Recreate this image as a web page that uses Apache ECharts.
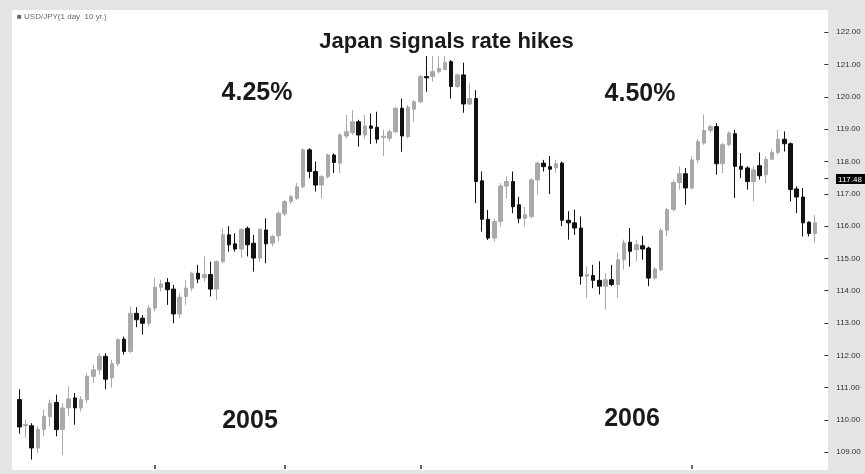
<!DOCTYPE html>
<html>
<head>
<meta charset="utf-8">
<script src="https://cdn.jsdelivr.net/npm/echarts@6/dist/echarts.min.js"></script>
<style>
html,body{margin:0;padding:0;background:#e4e4e4;}
#c{width:865px;height:474px;}
</style>
</head>
<body>
<div id="c"></div>
<script>
// USD/JPY daily candles
const opens = [110.63,109.82,109.82,109.13,109.70,110.10,110.54,109.70,110.37,110.68,
110.37,110.63,111.35,111.55,111.97,111.30,111.74,112.50,112.12,113.30,
113.15,112.99,113.46,114.11,114.25,114.05,113.28,113.82,114.08,114.54,
114.40,114.50,114.05,114.90,115.73,115.45,115.29,115.93,115.47,115.01,
115.88,115.47,115.70,116.38,116.76,116.86,117.22,118.36,117.69,117.27,
117.53,118.20,117.95,118.79,118.89,119.23,118.82,119.10,119.06,118.74,
118.72,118.92,119.65,118.77,119.62,119.85,120.63,120.63,120.78,120.85,
121.09,120.32,120.68,119.78,119.95,117.40,116.21,115.63,116.14,117.24,
117.38,116.66,116.24,116.30,117.43,117.95,117.84,117.80,117.95,116.18,
116.10,115.94,114.45,114.47,114.32,114.14,114.34,114.19,114.96,115.50,
115.27,115.39,115.32,114.39,114.65,115.87,116.51,117.35,117.62,117.18,
118.05,118.57,118.96,119.08,117.93,118.52,118.86,117.85,117.80,117.38,
117.87,117.59,118.07,118.28,118.69,118.55,117.15,116.90,116.12,115.77];
const closes = [109.78,109.86,109.13,109.70,110.11,110.52,109.70,110.37,110.65,110.37,
110.63,111.35,111.55,111.97,111.26,111.74,112.48,112.12,113.30,113.10,
112.99,113.46,114.11,114.21,114.03,113.28,113.80,114.08,114.54,114.36,
114.50,114.05,114.90,115.73,115.42,115.29,115.90,115.42,115.01,115.90,
115.45,115.68,116.40,116.76,116.91,117.22,118.36,117.69,117.27,117.53,
118.20,117.97,118.82,118.92,119.23,118.82,119.10,119.03,118.69,118.78,
118.92,119.65,118.79,119.68,119.85,120.63,120.59,120.78,120.88,121.06,
120.32,120.68,119.78,119.95,117.38,116.21,115.63,116.14,117.24,117.38,
116.60,116.24,116.35,117.43,117.95,117.84,117.76,117.93,116.18,116.10,
115.94,114.45,114.50,114.32,114.14,114.34,114.19,114.96,115.48,115.22,
115.42,115.29,114.39,114.67,115.87,116.51,117.35,117.62,117.18,118.05,
118.62,118.96,119.08,117.93,118.52,118.88,117.85,117.76,117.38,117.74,
117.56,118.07,118.28,118.69,118.55,117.13,116.90,116.10,115.77,116.10];
const lows = [109.57,109.45,108.77,108.98,109.49,109.80,109.49,108.92,110.11,109.85,
110.26,110.52,111.14,111.40,110.95,111.00,111.66,112.02,112.07,112.87,
112.64,112.89,113.36,113.98,113.56,112.99,113.15,113.56,113.98,114.23,
114.28,113.82,113.72,114.85,115.21,115.21,115.01,115.06,114.59,114.90,
114.85,115.37,115.52,116.30,116.69,116.81,117.17,117.48,117.07,116.86,
117.48,117.64,117.64,118.72,118.82,118.46,118.72,118.54,118.56,118.17,
118.62,118.87,118.30,118.72,119.23,119.80,120.16,120.47,120.73,120.83,
119.95,120.27,119.51,119.75,116.71,115.83,115.57,115.52,115.99,116.86,
116.40,116.09,115.99,116.24,116.97,117.69,116.99,117.65,116.00,115.58,
115.73,114.19,113.78,114.08,113.88,113.41,114.14,113.78,114.65,114.75,
114.91,114.96,114.14,114.34,114.60,115.68,116.46,117.13,116.66,117.13,
117.95,118.52,118.88,117.59,117.64,118.47,116.87,117.49,117.13,116.76,
117.44,117.33,118.05,118.21,118.31,116.76,116.40,115.68,115.68,115.48];
const highs = [110.95,110.00,109.90,109.80,110.32,110.63,110.78,110.52,111.04,110.83,
110.73,111.45,111.71,112.07,112.07,111.86,112.53,112.58,113.51,113.49,
113.25,113.56,114.39,114.34,114.39,114.18,113.92,114.34,114.59,114.80,
115.06,114.90,114.94,115.93,116.00,115.78,115.93,115.99,115.73,115.93,
116.24,115.73,116.45,116.81,116.97,117.33,118.41,118.41,118.00,117.58,
118.25,118.25,118.87,119.44,119.59,119.29,119.44,119.49,119.54,118.98,
118.98,119.70,119.95,119.75,119.90,120.68,121.40,121.40,121.40,121.35,
121.14,120.73,121.06,120.42,120.21,117.69,116.50,116.24,117.33,117.53,
117.69,116.91,116.60,117.48,118.00,118.05,118.17,118.05,118.00,116.46,
116.51,116.30,114.75,114.80,114.91,114.55,114.80,115.17,115.58,115.94,
115.58,115.70,115.37,114.73,115.94,116.56,117.44,117.85,117.80,118.16,
118.69,119.45,119.14,119.19,118.57,118.93,118.98,118.26,117.85,117.85,
118.28,118.16,118.36,118.98,118.93,118.59,117.23,117.18,116.15,116.35];
const days = Array.from({length: opens.length}, (_, i) => 'D' + (i + 1));
const priceTicks = [109,110,111,112,113,114,115,116,117,118,119,120,121,122];
const monthTickIdx = [22, 43, 65, 109];
const lastPrice = 117.48;
const titleText = 'Japan signals rate hikes';
const headerText = '\u25A0 USD/JPY(1 day  10 yr.)';
const notes = [
  {text: '4.25%', x: 257, y: 93},
  {text: '4.50%', x: 640, y: 94},
  {text: '2005', x: 250, y: 421},
  {text: '2006', x: 632, y: 419}
];

const ohlc = opens.map((o, i) => [o, closes[i], lows[i], highs[i]]);

const chart = echarts.init(document.getElementById('c'), null, {renderer: 'canvas'});
const FONT = '"Liberation Sans", Arial, Helvetica, sans-serif';

const graphics = [
  {type: 'rect', z: -10, silent: true, shape: {x: 12, y: 10, width: 816, height: 460}, style: {fill: '#ffffff'}},
  {type: 'text', z: 100, silent: true, style: {text: headerText, x: 17, y: 16.5, textVerticalAlign: 'middle', font: '8px ' + FONT, fill: '#666'}},
  {type: 'rect', z: 90, silent: true, shape: {x: 312, y: 24, width: 272, height: 32}, style: {fill: '#ffffff'}},
  {type: 'text', z: 100, silent: true, style: {text: titleText, x: 446.5, y: 42, textAlign: 'center', textVerticalAlign: 'middle', font: 'bold 22px ' + FONT, fill: '#1a1a1a'}},
  {type: 'rect', z: 100, silent: true, shape: {x: 836, y: 174, width: 29, height: 10}, style: {fill: '#000000'}},
  {type: 'text', z: 101, silent: true, style: {text: lastPrice.toFixed(2), x: 850, y: 179.5, textAlign: 'center', textVerticalAlign: 'middle', font: '8px ' + FONT, fill: '#ffffff'}}
];
notes.forEach(n => graphics.push({type: 'text', z: 100, silent: true,
  style: {text: n.text, x: n.x, y: n.y, textAlign: 'center', textVerticalAlign: 'middle', font: 'bold 25px ' + FONT, fill: '#1a1a1a'}}));

chart.setOption({
  animation: false,
  backgroundColor: '#e4e4e4',
  graphic: graphics,
  grid: {left: 16.2, right: 46.7, top: 10, bottom: 5, containLabel: false},
  xAxis: {
    type: 'category',
    data: days,
    boundaryGap: true,
    axisLine: {show: false},
    axisLabel: {show: false},
    splitLine: {show: false},
    axisTick: {show: true, inside: true, length: 4, alignWithLabel: true,
      interval: (idx) => monthTickIdx.includes(idx),
      lineStyle: {color: '#333', width: 1.5}}
  },
  yAxis: {
    type: 'value',
    position: 'right',
    offset: 10,
    min: 108.48,
    max: 122.69,
    scale: true,
    axisLine: {show: false},
    splitLine: {show: false},
    axisTick: {show: true, inside: true, length: 4, customValues: priceTicks.concat([lastPrice]), lineStyle: {color: '#333'}},
    axisLabel: {show: true, margin: 8, customValues: priceTicks, fontSize: 8, fontFamily: FONT, color: '#333',
      formatter: v => Number(v).toFixed(2)}
  },
  series: [{
    type: 'candlestick',
    data: ohlc,
    barWidth: 4,
    itemStyle: {color: '#a9a9a9', color0: '#111111', borderColor: '#a9a9a9', borderColor0: '#111111', borderWidth: 1}
  }]
});
</script>
</body>
</html>
